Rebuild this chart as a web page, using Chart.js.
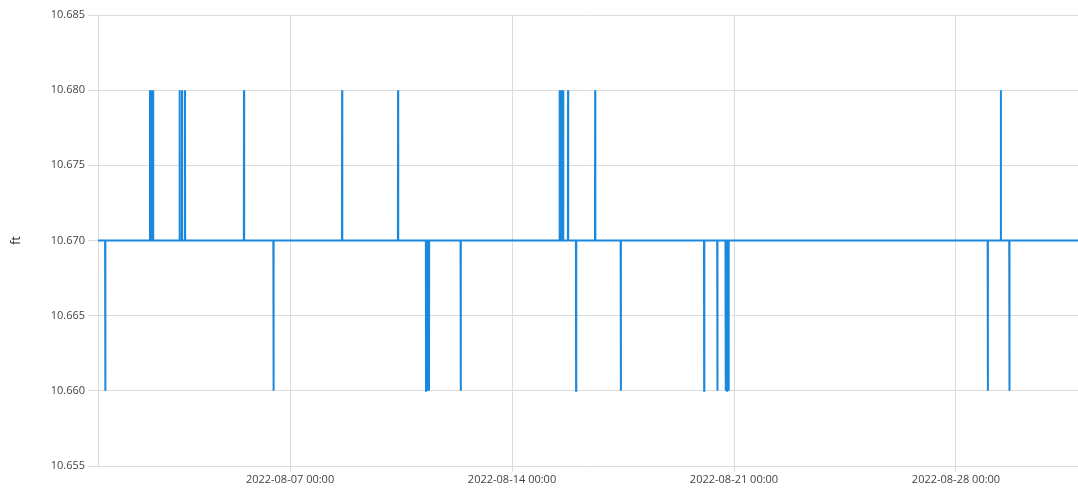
<!DOCTYPE html>
<html>
<head>
<meta charset="utf-8">
<script src="https://cdn.jsdelivr.net/npm/chart.js@4.4.0/dist/chart.umd.min.js"></script>
<style>
  html, body { margin: 0; padding: 0; background: #fff; }
  #wrap { width: 1078px; height: 489px; position: relative; }
</style>
</head>
<body>
<div id="wrap"><canvas id="chart"></canvas></div>
<script>
// Level readings: steady at the base level, with short excursions
const baseLevel = 10.670;
const eventTimes = [
  '2022-08-01 04:10', '2022-08-02 14:00', '2022-08-02 15:10', '2022-08-02 16:20',
  '2022-08-03 12:25', '2022-08-03 14:15', '2022-08-03 16:30', '2022-08-05 13:10',
  '2022-08-06 11:30', '2022-08-08 15:25', '2022-08-10 09:45', '2022-08-11 06:55',
  '2022-08-11 08:05', '2022-08-11 09:10', '2022-08-12 09:10', '2022-08-15 12:00',
  '2022-08-15 13:30', '2022-08-15 14:40', '2022-08-15 18:25', '2022-08-16 00:30',
  '2022-08-16 14:55', '2022-08-17 10:20', '2022-08-20 01:25', '2022-08-20 11:25',
  '2022-08-20 17:40', '2022-08-20 18:45', '2022-08-20 19:55', '2022-08-29 00:05',
  '2022-08-29 09:55', '2022-08-29 16:25'
];
const eventLevels = [
  10.660, 10.680, 10.680, 10.680,
  10.680, 10.680, 10.680, 10.680,
  10.660, 10.680, 10.680, 10.660,
  10.660, 10.660, 10.660, 10.680,
  10.680, 10.680, 10.680, 10.660,
  10.680, 10.660, 10.660, 10.660,
  10.660, 10.660, 10.660, 10.660,
  10.680, 10.660
];
const rangeStart = '2022-07-31 22:40';
const rangeEnd = '2022-08-31 20:20';
const xTickLabels = ['2022-08-07 00:00', '2022-08-14 00:00', '2022-08-21 00:00', '2022-08-28 00:00'];
const yTickValues = [10.655, 10.660, 10.665, 10.670, 10.675, 10.680, 10.685];

function toMs(s) {
  const [d, t] = s.split(' ');
  const [y, m, day] = d.split('-').map(Number);
  const [hh, mm] = t.split(':').map(Number);
  return Date.UTC(y, m - 1, day, hh, mm);
}
function fmt(ms) {
  const d = new Date(ms);
  const p = n => String(n).padStart(2, '0');
  return d.getUTCFullYear() + '-' + p(d.getUTCMonth() + 1) + '-' + p(d.getUTCDate()) +
    ' ' + p(d.getUTCHours()) + ':' + p(d.getUTCMinutes());
}

// each excursion is one reading, neighbours sit at the base level
const gap = 8 * 60 * 1000;
const points = [{ x: toMs(rangeStart), y: baseLevel }];
eventTimes.forEach((t, i) => {
  const ms = toMs(t);
  points.push({ x: ms - gap, y: baseLevel });
  points.push({ x: ms, y: eventLevels[i] });
  points.push({ x: ms + gap, y: baseLevel });
});
points.push({ x: toMs(rangeEnd), y: baseLevel });

const gridColor = '#dcdcdc';
const tickFont = { family: "'Open Sans', 'DejaVu Sans', sans-serif", size: 11 };

new Chart(document.getElementById('chart'), {
  type: 'line',
  data: {
    datasets: [{
      data: points,
      borderColor: '#1a88dd',
      borderWidth: 2,
      pointRadius: 0,
      tension: 0,
      fill: false
    }]
  },
  options: {
    responsive: true,
    maintainAspectRatio: false,
    animation: false,
    parsing: false,
    layout: { padding: { left: 9, right: 0, top: 15, bottom: 0 } },
    plugins: { legend: { display: false }, tooltip: { enabled: false } },
    scales: {
      x: {
        type: 'linear',
        min: toMs(rangeStart),
        max: toMs(rangeEnd),
        afterBuildTicks: s => { s.ticks = xTickLabels.map(l => ({ value: toMs(l) })); },
        afterFit: s => { s.height = 23; },
        grid: { color: gridColor, lineWidth: 1, tickLength: 6 },
        border: { display: false },
        ticks: {
          color: '#444',
          font: tickFont,
          padding: 1,
          maxRotation: 0,
          autoSkip: false,
          callback: v => fmt(v)
        }
      },
      y: {
        min: 10.655,
        max: 10.685,
        afterBuildTicks: s => { s.ticks = yTickValues.map(v => ({ value: v })); },
        afterFit: s => { s.width = 89; },
        grid: { color: gridColor, lineWidth: 1, tickLength: 10 },
        border: { display: true, color: gridColor },
        ticks: {
          color: '#444',
          font: tickFont,
          padding: 3,
          callback: v => v.toFixed(3)
        },
        title: {
          display: true,
          text: 'ft',
          color: '#222',
          font: { family: "'Open Sans', 'DejaVu Sans', sans-serif", size: 12 },
          padding: { top: 0, bottom: 0 }
        }
      }
    }
  }
});
</script>
</body>
</html>
